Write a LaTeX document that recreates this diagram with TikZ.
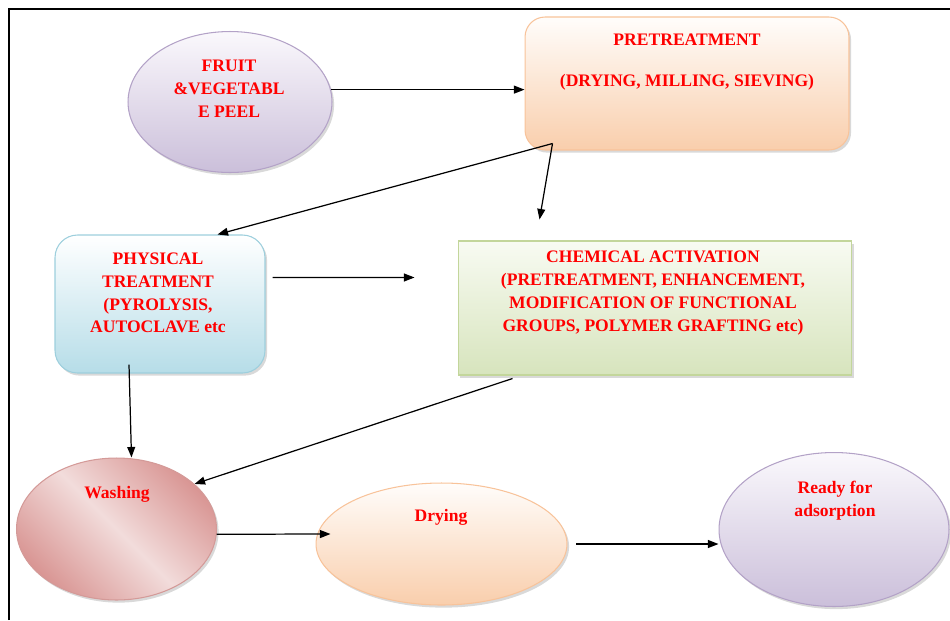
\documentclass[tikz,border=0pt]{standalone}
\usepackage{fontspec}
\setmainfont{Liberation Serif}
\usetikzlibrary{calc,shapes.geometric,shadows,arrows.meta}

\definecolor{lilacTop}{HTML}{FAF8FC}
\definecolor{lilacBot}{HTML}{CBBFDA}
\definecolor{lilacLine}{HTML}{B3A2C7}
\definecolor{peachTop}{HTML}{FFFDFB}
\definecolor{peachBot}{HTML}{F9CEAC}
\definecolor{peachLine}{HTML}{F8C39A}
\definecolor{blueTop}{HTML}{FFFFFF}
\definecolor{blueBot}{HTML}{B6DDE8}
\definecolor{blueLine}{HTML}{9DCFDD}
\definecolor{greenTop}{HTML}{F8FBF2}
\definecolor{greenBot}{HTML}{D7E4BD}
\definecolor{greenLine}{HTML}{C3D69B}
\definecolor{roseDark}{HTML}{D99694}
\definecolor{roseLight}{HTML}{F2DCDB}
\definecolor{roseLine}{HTML}{D49A98}

\tikzset{
	shadowed/.style={drop shadow={shadow xshift=1.2pt, shadow yshift=-1.5pt, opacity=0.3}},
	oval/.style={ellipse, inner sep=0pt, line width=0.6pt, shadowed},
	box/.style={rectangle, inner sep=0pt, line width=0.6pt, shadowed},
	lilac/.style={draw=lilacLine, top color=lilacTop, bottom color=lilacBot},
	peach/.style={draw=peachLine, top color=peachTop, bottom color=peachBot},
	txt/.style={text=red, font=\fontsize{10}{13}\selectfont\bfseries, align=center, inner sep=0pt},
	arr/.style={-{Triangle[length=6pt,width=4.5pt]}, line width=0.7pt}
}

\begin{document}
\begin{tikzpicture}[x=0.02cm, y=-0.02cm]
		%%%%% START %%%%%
		\useasboundingbox (0,0) rectangle (950,620);
		
		\draw[line width=1.2pt] (9,620) -- (9,9) -- (950,9);
		
		% top row
		\node[oval, lilac, minimum width=4.08cm, minimum height=2.82cm] (fruit) at (230,102) {};
		\node[txt] (fruittxt) at (229,89) {FRUIT\\\&VEGETABL\\E PEEL};
		
		\node[box, peach, rounded corners=0.4cm, minimum width=6.48cm, minimum height=2.66cm] (pre) at (687,83.5) {};
		\node[txt] (pretxt) at (687,62) {PRETREATMENT\\[10pt](DRYING, MILLING, SIEVING)};
		
		% middle row
		\node[box, draw=blueLine, top color=blueTop, bottom color=blueBot, rounded corners=0.45cm, minimum width=4.2cm, minimum height=2.76cm] (phys) at (160,304) {};
		\node[txt] (phystxt) at (158,293) {PHYSICAL\\TREATMENT\\(PYROLYSIS,\\AUTOCLAVE etc};
		
		\node[box, draw=greenLine, top color=greenTop, bottom color=greenBot, minimum width=7.88cm, minimum height=2.68cm] (chem) at (655,308) {};
		\node[txt] (chemtxt) at (653,293) {CHEMICAL ACTIVATION\\(PRETREATMENT, ENHANCEMENT,\\MODIFICATION OF FUNCTIONAL\\GROUPS, POLYMER GRAFTING etc)};
		
		% bottom row
		\node[oval, draw=roseLine, top color=roseDark, bottom color=roseDark, middle color=roseLight, shading angle=-45, minimum width=4cm, minimum height=2.84cm] (wash) at (116.5,529) {};
		\node[txt] (washtxt) at (117,494) {Washing};
		
		\node[oval, peach, minimum width=5.02cm, minimum height=2.44cm] (dry) at (441.5,544) {};
		\node[txt] (drytxt) at (441,517) {Drying};
		
		\node[oval, lilac, minimum width=4.6cm, minimum height=3.08cm] (ready) at (834,529.5) {};
		\node[txt] (readytxt) at (835,500.5) {Ready for\\adsorption};
		
		% arrows
		\coordinate (fork) at ($(pre.south west)+(28,-7)$);
		\coordinate (dryin) at ($(dry.west)+(15,-10)$);
		
		\draw[arr] (fruit.7) -- (fruit.7 -| pre.west);
		\draw[arr] (fork) -- ($(phys.north east)+(-48,0)$);
		\draw[arr] (fork) -- ($(chem.north west)+(82,-21)$);
		\draw[arr] ($(phys.north east)+(7,43)$) -- ($(chem.north west)+(-43,37)$);
		\draw[arr] ($(phys.south)+(-31,-9)$) -- ($(wash.north)+(15,0)$);
		\draw[arr] ($(chem.south west)+(55,3)$) -- (wash.30);
		\draw[arr] (wash.-3) -- (dryin);
		\draw[arr, shorten <=5pt] (dry.east) -- (dry.east -| ready.west);
		
		%%%%% END %%%%%
	\end{tikzpicture}
\end{document}
